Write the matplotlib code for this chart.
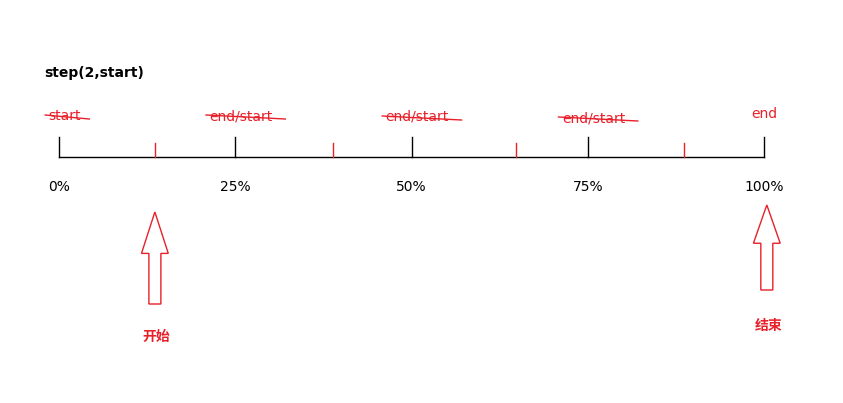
import matplotlib
matplotlib.use("Agg")
import matplotlib.pyplot as plt
from matplotlib.patches import FancyArrow

plt.rcParams['font.family'] = ['Noto Sans CJK SC', 'DejaVu Sans']

title = "step(2,start)"
major_pcts = [0, 25, 50, 75, 100]
major_labels = ["0%", "25%", "50%", "75%", "100%"]
minor_pcts = [13.6, 38.9, 64.8, 88.7]
state_labels = ["start", "end/start", "end/start", "end/start", "end"]
state_struck = [True, True, True, True, False]
arrow_pcts = [13.6, 100.4]
arrow_labels = ["开始", "结束"]

W, H = 843, 403
fig = plt.figure(figsize=(W/100, H/100), dpi=100)
ax = fig.add_axes([0, 0, 1, 1])
scale = 7.05
ax.set_xlim(-59/scale, (W-59)/scale)
ax.set_ylim(H, 0)
ax.axis('off')
red = '#e8202a'

ax.plot([0, 100], [157, 157], color='black', lw=1)
for p, lab in zip(major_pcts, major_labels):
    ax.plot([p, p], [137, 157], color='black', lw=1)
    ax.text(p, 187, lab, ha='center', va='center', fontsize=10, family='DejaVu Sans')
for p in minor_pcts:
    ax.plot([p, p], [143, 157], color=red, lw=1)
offsets = [116, 116, 117, 118, 114]
for p, lab, s, y in zip(major_pcts, state_labels, state_struck, offsets):
    xo = 0.8 if s else 0
    ax.text(p + xo, y, lab, ha='center', va='center', fontsize=10, color=red, family='DejaVu Sans')
    if s:
        n = len(lab)
        ax.plot([p + xo - n*0.55, p + xo + n*0.7], [y - 1, y + 3], color=red, lw=1)

ax.text(44/1, 0, "")
ax.text(-15/scale*1 + (44-59)/scale - (-15/scale), 73, title, ha='left', va='center',
        fontsize=10, fontweight='bold', family='DejaVu Sans')

for p, lab, (y0, y1, ly) in zip(arrow_pcts, arrow_labels, [(304, 212, 337), (290, 205, 326)]):
    xs = [p-0.85, p-0.85, p-1.9, p, p+1.9, p+0.85, p+0.85, p-0.85]
    ys = [y0, y0-(y0-y1)*0.55, y0-(y0-y1)*0.55, y1, y0-(y0-y1)*0.55, y0-(y0-y1)*0.55, y0, y0]
    ax.fill(xs, ys, facecolor='white', edgecolor=red, lw=1)
    ax.text(p + 0.2, ly, lab, ha='center', va='center', fontsize=10, fontweight='bold', color=red)

fig.savefig("out.png", dpi=100)
